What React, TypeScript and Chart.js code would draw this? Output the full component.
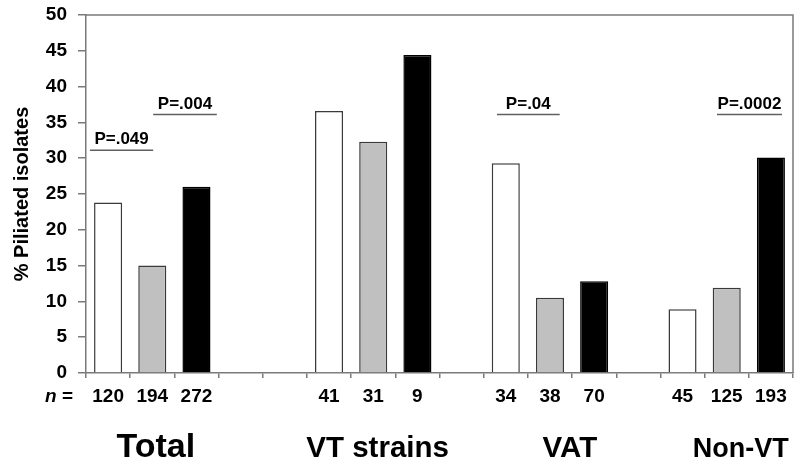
import React, { useEffect, useRef } from 'react';
import { Chart, registerables } from 'chart.js';

Chart.register(...registerables);

// ---- data ----
const groups = ['Total', 'VT strains', 'VAT', 'Non-VT'];
const whiteValues = [23.8, 36.6, 29.3, 8.9];
const greyValues = [15.0, 32.3, 10.5, 11.9];
const blackValues = [26.0, 44.4, 12.8, 30.1];
const whiteN = ['120', '41', '34', '45'];
const greyN = ['194', '31', '38', '125'];
const blackN = ['272', '9', '70', '193'];
const yTickValues = [0, 5, 10, 15, 20, 25, 30, 35, 40, 45, 50];
const pLabels = ['P=.049', 'P=.004', 'P=.04', 'P=.0002'];
const pLevels = [31.1, 36.1, 36.1, 36.1];
const yTitle = '% Piliated isolates';

// ---- layout (not data) ----
const spacersAfter = [2, 1, 1, 0];
// bracket spans in category-index units (centre of slot = integer)
const pFrom = [-0.41, 1.02, 8.8, 13.78];
const pTo = [1.02, 2.46, 10.22, 15.25];
const groupLabelPos = [1.08, 6.1, 10.45, 14.32];
const groupLabelSize = [34, 29.5, 29.5, 27];

const WHITE = '#ffffff';
const GREY = '#c0c0c0';
const BLACK = '#000000';
const AXIS = '#7a7a7a';
const FONT = 'Arial, "Liberation Sans", Helvetica, sans-serif';

const labels: string[] = [];
const values: (number | null)[] = [];
const fills: string[] = [];
const borders: string[] = [];
groups.forEach((_, g) => {
  labels.push(whiteN[g], greyN[g], blackN[g]);
  values.push(whiteValues[g], greyValues[g], blackValues[g]);
  fills.push(WHITE, GREY, BLACK);
  borders.push('#3a3a3a', '#3a3a3a', '#000000');
  for (let s = 0; s < spacersAfter[g]; s++) {
    labels.push('');
    values.push(null);
    fills.push(WHITE);
    borders.push(WHITE);
  }
});

const overlay = {
  id: 'overlay',
  afterDraw(chart: any) {
    const { ctx, chartArea, scales } = chart;
    const x = scales.x;
    const y = scales.y;
    ctx.save();
    // frame top & right
    ctx.strokeStyle = AXIS;
    ctx.lineWidth = 1.5;
    ctx.beginPath();
    ctx.moveTo(chartArea.left, chartArea.top);
    ctx.lineTo(chartArea.right, chartArea.top);
    ctx.lineTo(chartArea.right, chartArea.bottom);
    ctx.stroke();

    // significance brackets
    ctx.fillStyle = '#000';
    ctx.textAlign = 'center';
    ctx.textBaseline = 'alphabetic';
    ctx.font = `bold 17px ${FONT}`;
    pLabels.forEach((lab, i) => {
      const x0 = x.getPixelForValue(pFrom[i]);
      const x1 = x.getPixelForValue(pTo[i]);
      const yy = y.getPixelForValue(pLevels[i]);
      ctx.strokeStyle = '#606060';
      ctx.lineWidth = 1.5;
      ctx.beginPath();
      ctx.moveTo(x0, yy);
      ctx.lineTo(x1, yy);
      ctx.stroke();
      ctx.fillText(lab, (x0 + x1) / 2, yy - 6);
    });

    // "n =" label
    const ny = chartArea.bottom + 5 + 7 + 11.4;
    ctx.textBaseline = 'middle';
    ctx.textAlign = 'left';
    ctx.font = `italic bold 19px ${FONT}`;
    const nStart = 45;
    ctx.fillText('n', nStart, ny);
    const nw = ctx.measureText('n').width;
    ctx.font = `bold 19px ${FONT}`;
    ctx.fillText(' =', nStart + nw, ny);

    // group labels
    ctx.textAlign = 'center';
    ctx.textBaseline = 'alphabetic';
    groups.forEach((g, i) => {
      ctx.font = `bold ${groupLabelSize[i]}px ${FONT}`;
      ctx.fillText(g, x.getPixelForValue(groupLabelPos[i]), chartArea.bottom + 84);
    });
    ctx.restore();
  },
};

export default function App() {
  const ref = useRef<HTMLCanvasElement | null>(null);
  useEffect(() => {
    if (!ref.current) return;
    const chart = new Chart(ref.current, {
      type: 'bar',
      data: {
        labels,
        datasets: [
          {
            data: values,
            backgroundColor: fills,
            borderColor: borders,
            borderWidth: 1.5,
            barPercentage: 0.635,
            categoryPercentage: 1,
          },
        ],
      },
      options: {
        animation: false,
        responsive: true,
        maintainAspectRatio: false,
        layout: { padding: { left: 0, right: 8, top: 15, bottom: 0 } },
        plugins: {
          legend: { display: false },
          tooltip: { enabled: false },
        },
        scales: {
          x: {
            afterFit: (s: any) => {
              s.height = 93;
              s.paddingRight = 0;
              s.paddingLeft = 0;
            },
            grid: {
              display: true,
              drawOnChartArea: false,
              drawTicks: true,
              tickLength: 5,
              color: AXIS,
              lineWidth: 1.5,
              offset: true,
            },
            border: { display: true, color: AXIS, width: 1.5 },
            ticks: {
              autoSkip: false,
              maxRotation: 0,
              padding: 7,
              color: '#000',
              font: { family: FONT, size: 19, weight: 'bold' },
            },
          },
          y: {
            min: 0,
            max: 50,
            afterFit: (s: any) => {
              s.width = 86;
              s.paddingTop = 0;
              s.paddingBottom = 0;
            },
            afterBuildTicks: (s: any) => {
              s.ticks = yTickValues.map((v) => ({ value: v }));
            },
            grid: {
              display: true,
              drawOnChartArea: false,
              drawTicks: true,
              tickLength: 8,
              color: AXIS,
              lineWidth: 1.5,
            },
            border: { display: true, color: AXIS, width: 1.5 },
            ticks: {
              padding: 11,
              color: '#000',
              font: { family: FONT, size: 19, weight: 'bold' },
            },
            title: {
              display: true,
              text: yTitle,
              color: '#000',
              padding: { top: 10, bottom: 0 },
              font: { family: FONT, size: 20, weight: 'bold', lineHeight: 1.2 },
            },
          },
        },
      },
      plugins: [overlay],
    });
    return () => chart.destroy();
  }, []);

  return (
    <div style={{ position: 'absolute', left: 0, top: 0, width: 801, height: 466 }}>
      <canvas ref={ref} />
    </div>
  );
}
